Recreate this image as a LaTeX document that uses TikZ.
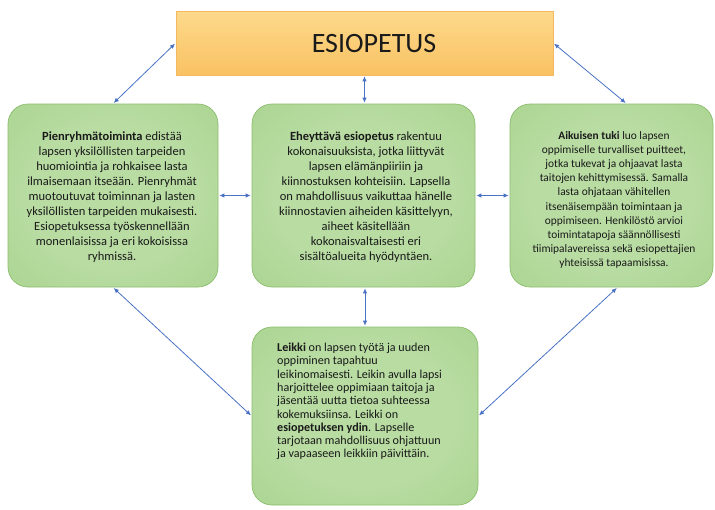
\documentclass[tikz,border=0pt]{standalone}
\usepackage{fontspec}
\setmainfont{Carlito}
\usetikzlibrary{arrows.meta,calc}
\definecolor{gin}{HTML}{B8DCA2}
\definecolor{gout}{HTML}{9CCB7E}
\definecolor{gborder}{HTML}{8CBD6E}
\definecolor{otop}{HTML}{FDD98C}
\definecolor{obot}{HTML}{F9C262}
\definecolor{oborder}{HTML}{F4B860}
\definecolor{arrowblue}{HTML}{4A72C4}
\definecolor{txt}{HTML}{1A1A1A}
\pgfdeclareradialshading{greenglow}{\pgfpoint{0bp}{0bp}}{color(0bp)=(gin);color(20bp)=(gin);color(55bp)=(gout);color(100bp)=(gout)}
\begin{document}
\begin{tikzpicture}[x=1pt,y=-1pt,
  greenbox/.style={draw=gborder,line width=0.7pt,rounded corners=20pt,shading=greenglow,inner sep=0pt},
  topbox/.style={draw=oborder,line width=0.6pt,top color=otop,bottom color=obot,inner sep=0pt},
  boxtext/.style={text=txt,font=\fontsize{12.5}{15}\selectfont,align=center,inner sep=0pt},
  link/.style={draw=arrowblue,line width=0.8pt,{Latex[length=5pt,width=4.5pt]}-{Latex[length=5pt,width=4.5pt]},shorten <=1pt,shorten >=1pt}]
\useasboundingbox (0,0) rectangle (715,509);

\node[topbox,minimum width=377pt,minimum height=64pt] (top) at (364.5,43) {};
\node[text=txt,font=\fontsize{28}{30}\selectfont] (toptext) at (374,44) {ESIOPETUS};

\node[greenbox,minimum width=210pt,minimum height=183pt] (left) at (113,195.5) {};
\node[greenbox,minimum width=223pt,minimum height=183pt] (center) at (363.5,195.5) {};
\node[greenbox,minimum width=203pt,minimum height=183pt] (right) at (611.5,195.5) {};
\node[greenbox,minimum width=226pt,minimum height=178pt] (bottom) at (365,416) {};

\node[boxtext] (lefttext) at (112,197) {\textbf{Pienryhmätoiminta} edistää\\
lapsen yksilöllisten tarpeiden\\
huomiointia ja rohkaisee lasta\\
ilmaisemaan itseään. Pienryhmät\\
muotoutuvat toiminnan ja lasten\\
yksilöllisten tarpeiden mukaisesti.\\
Esiopetuksessa työskennellään\\
monenlaisissa ja eri kokoisissa\\
ryhmissä.};

\node[boxtext] (centertext) at (366,197.5) {\textbf{Eheyttävä esiopetus} rakentuu\\
kokonaisuuksista, jotka liittyvät\\
lapsen elämänpiiriin ja\\
kiinnostuksen kohteisiin. Lapsella\\
on mahdollisuus vaikuttaa hänelle\\
kiinnostavien aiheiden käsittelyyn,\\
aiheet käsitellään\\
kokonaisvaltaisesti eri\\
sisältöalueita hyödyntäen.};

\node[boxtext,font=\fontsize{11.4}{14.2}\selectfont] (righttext) at (614,200) {\textbf{Aikuisen tuki} luo lapsen\\
oppimiselle turvalliset puitteet,\\
jotka tukevat ja ohjaavat lasta\\
taitojen kehittymisessä. Samalla\\
lasta ohjataan vähitellen\\
itsenäisempään toimintaan ja\\
oppimiseen. Henkilöstö arvioi\\
toimintatapoja säännöllisesti\\
tiimipalavereissa sekä esiopettajien\\
yhteisissä tapaamisissa.};

\node[boxtext,font=\fontsize{12.1}{13.3}\selectfont,align=left,anchor=west] (bottomtext) at (277,401.5) {\textbf{Leikki} on lapsen työtä ja uuden\\
oppiminen tapahtuu\\
leikinomaisesti. Leikin avulla lapsi\\
harjoittelee oppimiaan taitoja ja\\
jäsentää uutta tietoa suhteessa\\
kokemuksiinsa. Leikki on\\
\textbf{esiopetuksen ydin}. Lapselle\\
tarjotaan mahdollisuus ohjattuun\\
ja vapaaseen leikkiin päivittäin.};

\draw[link] (left.north) -- (top.west);
\draw[link] (top.east) -- ([xshift=15pt]right.north);
\draw[link] (top.south) -- (top.south |- center.north);
\draw[link] (left.east) -- (center.west);
\draw[link] (center.east) -- (right.west);
\draw[link] ([xshift=1.5pt]center.south) -- ([xshift=1.5pt]center.south |- bottom.north);
\draw[link] (left.south) -- (bottom.west);
\draw[link] ([xshift=6pt]right.south) -- (bottom.east);
\end{tikzpicture}
\end{document}
